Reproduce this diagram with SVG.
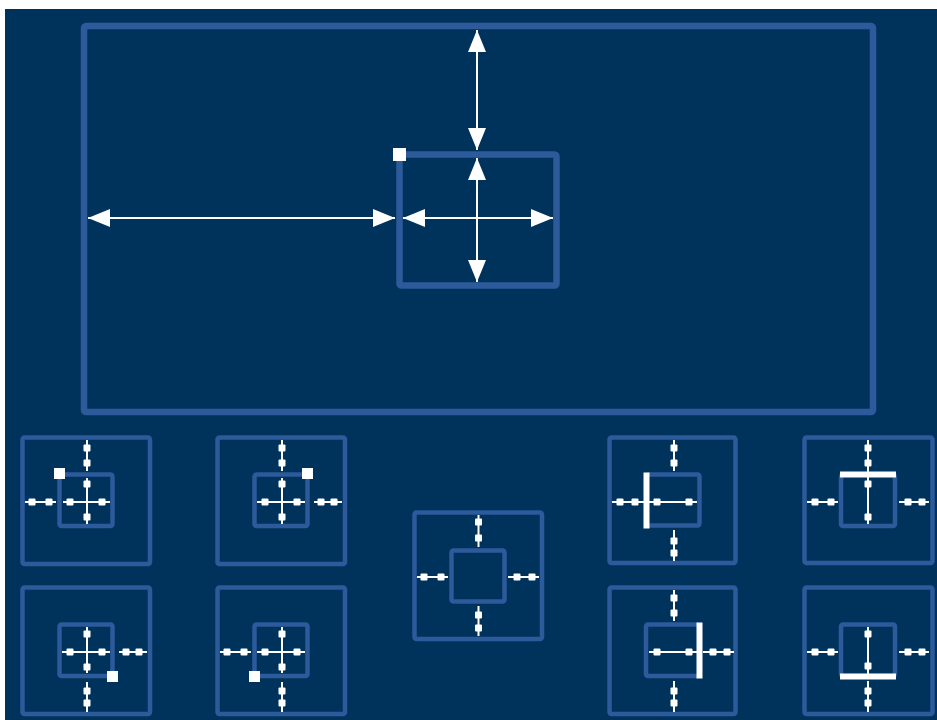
<svg xmlns="http://www.w3.org/2000/svg" width="937" height="720" viewBox="0 0 937 720">
<style>
.bg{fill:#00335C}
.frame{fill:none;stroke:#2D5A9B;stroke-width:6.5}
.sf{fill:none;stroke:#2D5A9B;stroke-width:4.5}
.ln{stroke:#FFFFFF;stroke-width:2;fill:none}
.arr{stroke:#FFFFFF;stroke-width:2;fill:none;marker-start:url(#ah);marker-end:url(#ah)}
.w{fill:#FFFFFF}
</style>
<defs>
<marker id="ah" markerUnits="userSpaceOnUse" markerWidth="22" markerHeight="18" refX="22" refY="9" orient="auto-start-reverse" viewBox="0 0 22 18">
<path d="M0,0 L22,9 L0,18 Z" fill="#FFFFFF"/>
</marker>
<rect id="d" x="-3.5" y="-3.5" width="7" height="7" rx="1" fill="#FFFFFF"/>
</defs>
<rect x="0" y="0" width="937" height="720" fill="#FFFFFF"/>
<rect class="bg" x="5" y="9" width="932" height="711"/>

<g id="main">
<rect class="frame" x="84" y="26" width="789" height="386" rx="2"/>
<rect class="frame" x="399.5" y="154.5" width="157" height="131" rx="2"/>
<rect class="w" x="393" y="148" width="13" height="13"/>
</g>

<g id="connectors">
<line class="arr" x1="477" y1="30" x2="477" y2="150"/>
<line class="arr" x1="477" y1="158" x2="477" y2="282"/>
<line class="arr" x1="88" y1="218" x2="395" y2="218"/>
<line class="arr" x1="403" y1="218" x2="553" y2="218"/>
</g>

<g id="panel-top-left">
<rect class="sf" x="22.5" y="437.5" width="127.5" height="126.5" rx="2"/>
<rect class="sf" x="59.5" y="474.5" width="53" height="51.5" rx="2"/>
<rect class="w" x="54" y="468" width="11" height="11"/>
<line class="ln" x1="87" y1="440" x2="87" y2="471"/>
<line class="ln" x1="87" y1="478" x2="87" y2="524"/>
<line class="ln" x1="25" y1="502" x2="56" y2="502"/>
<line class="ln" x1="63" y1="502" x2="110" y2="502"/>
<use href="#d" x="87" y="448"/><use href="#d" x="87" y="463"/><use href="#d" x="87" y="484"/><use href="#d" x="87" y="517"/>
<use href="#d" x="32" y="502"/><use href="#d" x="49" y="502"/><use href="#d" x="70" y="502"/><use href="#d" x="102" y="502"/>
</g>

<g id="panel-top-right">
<rect class="sf" x="217.5" y="437.5" width="127.5" height="126.5" rx="2"/>
<rect class="sf" x="254.5" y="474.5" width="53" height="51.5" rx="2"/>
<rect class="w" x="302" y="468" width="11" height="11"/>
<line class="ln" x1="282" y1="440" x2="282" y2="471"/>
<line class="ln" x1="282" y1="478" x2="282" y2="524"/>
<line class="ln" x1="257" y1="502" x2="305" y2="502"/>
<line class="ln" x1="314" y1="502" x2="342" y2="502"/>
<use href="#d" x="282" y="448"/><use href="#d" x="282" y="463"/><use href="#d" x="282" y="484"/><use href="#d" x="282" y="517"/>
<use href="#d" x="265" y="502"/><use href="#d" x="297" y="502"/><use href="#d" x="321" y="502"/><use href="#d" x="334" y="502"/>
</g>

<g id="panel-bottom-right-handle">
<rect class="sf" x="22.5" y="587.5" width="127.5" height="126.5" rx="2"/>
<rect class="sf" x="59.5" y="624.5" width="53" height="51.5" rx="2"/>
<rect class="w" x="107" y="671" width="11" height="11"/>
<line class="ln" x1="87" y1="627" x2="87" y2="673"/>
<line class="ln" x1="87" y1="682" x2="87" y2="712"/>
<line class="ln" x1="62" y1="652" x2="110" y2="652"/>
<line class="ln" x1="119" y1="652" x2="147" y2="652"/>
<use href="#d" x="87" y="634"/><use href="#d" x="87" y="667"/><use href="#d" x="87" y="691"/><use href="#d" x="87" y="703"/>
<use href="#d" x="70" y="652"/><use href="#d" x="102" y="652"/><use href="#d" x="126" y="652"/><use href="#d" x="139" y="652"/>
</g>

<g id="panel-bottom-left-handle">
<rect class="sf" x="217.5" y="587.5" width="127.5" height="126.5" rx="2"/>
<rect class="sf" x="254.5" y="624.5" width="53" height="51.5" rx="2"/>
<rect class="w" x="249" y="671" width="11" height="11"/>
<line class="ln" x1="282" y1="627" x2="282" y2="673"/>
<line class="ln" x1="282" y1="682" x2="282" y2="712"/>
<line class="ln" x1="220" y1="652" x2="251" y2="652"/>
<line class="ln" x1="257" y1="652" x2="305" y2="652"/>
<use href="#d" x="282" y="634"/><use href="#d" x="282" y="667"/><use href="#d" x="282" y="691"/><use href="#d" x="282" y="703"/>
<use href="#d" x="227" y="652"/><use href="#d" x="244" y="652"/><use href="#d" x="265" y="652"/><use href="#d" x="297" y="652"/>
</g>

<g id="panel-center">
<rect class="sf" x="414.5" y="512.5" width="127.5" height="126.5" rx="2"/>
<rect class="sf" x="451.5" y="550.5" width="53" height="51" rx="2"/>
<line class="ln" x1="478.5" y1="515" x2="478.5" y2="547"/>
<line class="ln" x1="478.5" y1="606" x2="478.5" y2="636"/>
<line class="ln" x1="417" y1="577" x2="448" y2="577"/>
<line class="ln" x1="508" y1="577" x2="539" y2="577"/>
<use href="#d" x="478.5" y="522"/><use href="#d" x="478.5" y="538"/><use href="#d" x="478.5" y="615"/><use href="#d" x="478.5" y="628"/>
<use href="#d" x="424" y="577"/><use href="#d" x="441" y="577"/><use href="#d" x="517" y="577"/><use href="#d" x="532" y="577"/>
</g>

<g id="panel-left-edge">
<rect class="sf" x="609.5" y="437.5" width="126" height="125.5" rx="2"/>
<rect class="sf" x="646.5" y="474.5" width="53" height="51" rx="2"/>
<rect class="w" x="643.5" y="472.5" width="6" height="56"/>
<line class="ln" x1="674" y1="440" x2="674" y2="471"/>
<line class="ln" x1="674" y1="530" x2="674" y2="561"/>
<line class="ln" x1="612" y1="502" x2="644" y2="502"/>
<line class="ln" x1="649" y1="502" x2="697" y2="502"/>
<use href="#d" x="674" y="448"/><use href="#d" x="674" y="463"/><use href="#d" x="674" y="541"/><use href="#d" x="674" y="553"/>
<use href="#d" x="620" y="502"/><use href="#d" x="635" y="502"/><use href="#d" x="657" y="502"/><use href="#d" x="689" y="502"/>
</g>

<g id="panel-top-edge">
<rect class="sf" x="804.5" y="437.5" width="128" height="125.5" rx="2"/>
<rect class="sf" x="841" y="474.5" width="54" height="51.5" rx="2"/>
<rect class="w" x="840" y="471.5" width="56" height="6"/>
<line class="ln" x1="868" y1="440" x2="868" y2="472"/>
<line class="ln" x1="868" y1="477" x2="868" y2="524"/>
<line class="ln" x1="807" y1="502" x2="838" y2="502"/>
<line class="ln" x1="899" y1="502" x2="929" y2="502"/>
<use href="#d" x="868" y="448"/><use href="#d" x="868" y="463"/><use href="#d" x="868" y="484"/><use href="#d" x="868" y="517"/>
<use href="#d" x="815" y="502"/><use href="#d" x="831" y="502"/><use href="#d" x="908" y="502"/><use href="#d" x="922" y="502"/>
</g>

<g id="panel-right-edge">
<rect class="sf" x="609.5" y="587.5" width="126" height="126.5" rx="2"/>
<rect class="sf" x="646" y="624.5" width="53.5" height="51.5" rx="2"/>
<rect class="w" x="696.5" y="622.5" width="6" height="56"/>
<line class="ln" x1="674" y1="590" x2="674" y2="621"/>
<line class="ln" x1="674" y1="681" x2="674" y2="712"/>
<line class="ln" x1="649" y1="652" x2="697" y2="652"/>
<line class="ln" x1="703" y1="652" x2="734" y2="652"/>
<use href="#d" x="674" y="598"/><use href="#d" x="674" y="613"/><use href="#d" x="674" y="691"/><use href="#d" x="674" y="703"/>
<use href="#d" x="657" y="652"/><use href="#d" x="689" y="652"/><use href="#d" x="713" y="652"/><use href="#d" x="727" y="652"/>
</g>

<g id="panel-bottom-edge">
<rect class="sf" x="804.5" y="587.5" width="128" height="126.5" rx="2"/>
<rect class="sf" x="841" y="624.5" width="54" height="51.5" rx="2"/>
<rect class="w" x="840" y="673.5" width="56" height="6"/>
<line class="ln" x1="868" y1="627" x2="868" y2="674"/>
<line class="ln" x1="868" y1="681" x2="868" y2="712"/>
<line class="ln" x1="807" y1="652" x2="838" y2="652"/>
<line class="ln" x1="899" y1="652" x2="929" y2="652"/>
<use href="#d" x="868" y="634"/><use href="#d" x="868" y="666"/><use href="#d" x="868" y="691"/><use href="#d" x="868" y="703"/>
<use href="#d" x="815" y="652"/><use href="#d" x="831" y="652"/><use href="#d" x="908" y="652"/><use href="#d" x="922" y="652"/>
</g>
</svg>
